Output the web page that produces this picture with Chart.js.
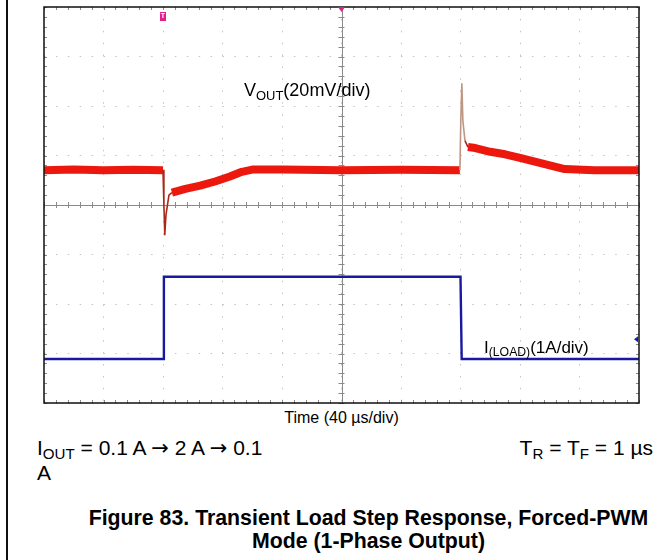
<!DOCTYPE html>
<html>
<head>
<meta charset="utf-8">
<script src="https://cdn.jsdelivr.net/npm/chart.js@4.4.1/dist/chart.umd.min.js"></script>
<style>
  html, body { margin: 0; padding: 0; background: #fff; }
  body { width: 669px; height: 560px; position: relative; overflow: hidden; font-family: "Liberation Sans", Arial, sans-serif; color: #000; }
  #pageLine { position: absolute; left: 6px; top: 0; width: 1.5px; height: 560px; background: #111; }
  #wrap { position: absolute; left: 43px; top: 6px; width: 597px; height: 398px; }
  .lbl { position: absolute; white-space: nowrap; line-height: 1; }
  .lbl sub { font-size: 0.72em; vertical-align: -0.28em; line-height: 1; }
  .arr { font-family: "DejaVu Sans", sans-serif; font-size: 1em; }
</style>
</head>
<body>
<div id="pageLine"></div>
<div id="wrap"><canvas id="c"></canvas></div>

<div class="lbl" style="left:244px; top:81px; font-size:18px;">V<sub>OUT</sub>(20mV/div)</div>
<div class="lbl" style="left:484px; top:339px; font-size:17px;">I<sub>(LOAD)</sub>(1A/div)</div>
<div class="lbl" style="left:0; width:683px; text-align:center; top:410px; font-size:16px;">Time (40 µs/div)</div>
<div class="lbl" style="left:37px; top:437px; font-size:21px;">I<sub>OUT</sub> = 0.1 A <span class="arr">→</span> 2 A <span class="arr">→</span> 0.1</div>
<div class="lbl" style="left:37px; top:462px; font-size:21px;">A</div>
<div class="lbl" style="right:16px; top:437px; font-size:21px;">T<sub>R</sub> = T<sub>F</sub> = 1 µs</div>
<div class="lbl" style="left:68px; width:601px; text-align:center; top:507px; font-size:21.3px; font-weight:bold; line-height:23px;">Figure 83. Transient Load Step Response, Forced-PWM<br>Mode (1-Phase Output)</div>

<script>
// ---- data (time in µs, 40 µs/div; Vout deviation in mV, 20 mV/div; Iload in A, 1 A/div)
const vTime = [0, 20, 40, 60, 80, 80.6, 81.2, 82, 84, 86, 95, 105, 115, 125, 133, 140, 160, 200, 240, 279.6, 280.2, 280.9, 281.6, 283, 285, 290, 300, 310, 320, 330, 340, 350, 370, 400];
const vOut  = [0, 0.3, 0, 0.2, 0, -14, -26, -18, -10, -9, -7.5, -6.2, -4.5, -2.5, -0.6, 0.3, 0.3, 0, 0.2, 0, 20, 35, 20, 12, 9.4, 9, 7.5, 6.5, 5, 3.5, 2, 0.5, 0, 0];
const iTime = [0, 80, 80.6, 280, 280.8, 400];
const iLoad = [0.1, 0.1, 1.76, 1.76, 0.1, 0.1];
const xTicks = [0, 40, 80, 120, 160, 200, 240, 280, 320, 360, 400];
const triggerTime = 80;     // trigger marker
const centerTime = 200;     // horizontal position marker
const iOffsetMarker = 0.5;  // channel marker level (A)

const vPoints = vTime.map((t, k) => ({x: t, y: vOut[k]}));
const iPoints = iTime.map((t, k) => ({x: t, y: iLoad[k]}));
const isTransient = (t0, t1) => (t0 >= 80 && t1 <= 86) || (t0 >= 279.6 && t1 <= 285);

const scopePlugin = {
  id: 'scope',
  beforeDatasetsDraw(chart) {
    const {ctx, chartArea: a, scales} = chart;
    const xs = scales.x, ys = scales.yV;
    const cx = xs.getPixelForValue(200), cy = ys.getPixelForValue(-14);
    ctx.save();
    ctx.strokeStyle = '#8a8a8a';
    ctx.lineWidth = 1;
    ctx.beginPath();
    ctx.moveTo(a.left, Math.round(cy) + 0.5); ctx.lineTo(a.right, Math.round(cy) + 0.5);
    ctx.moveTo(Math.round(cx) + 0.5, a.top); ctx.lineTo(Math.round(cx) + 0.5, a.bottom);
    for (let t = 0; t <= 400; t += 8) {
      const px = Math.round(xs.getPixelForValue(t)) + 0.5;
      ctx.moveTo(px, cy - 3); ctx.lineTo(px, cy + 3);
      ctx.moveTo(px, a.top); ctx.lineTo(px, a.top + 3);
      ctx.moveTo(px, a.bottom); ctx.lineTo(px, a.bottom - 3);
    }
    for (let v = -94; v <= 66.01; v += 4) {
      const py = Math.round(ys.getPixelForValue(v)) + 0.5;
      ctx.moveTo(cx - 3, py); ctx.lineTo(cx + 3, py);
      ctx.moveTo(a.left, py); ctx.lineTo(a.left + 3, py);
      ctx.moveTo(a.right, py); ctx.lineTo(a.right - 3, py);
    }
    ctx.stroke();
    ctx.restore();
  },
  afterDraw(chart) {
    const {ctx, chartArea: a, scales} = chart;
    ctx.save();
    ctx.strokeStyle = '#111';
    ctx.lineWidth = 1.5;
    ctx.strokeRect(a.left, a.top, a.right - a.left, a.bottom - a.top);
    const tx = scales.x.getPixelForValue(triggerTime);
    ctx.fillStyle = '#e0208c';
    ctx.fillRect(tx - 3, a.top + 5, 6, 9);
    ctx.fillStyle = '#fff';
    ctx.font = 'bold 7px "Liberation Sans"';
    ctx.textAlign = 'center'; ctx.textBaseline = 'middle';
    ctx.fillText('T', tx, a.top + 9.5);
    const hx = scales.x.getPixelForValue(centerTime);
    ctx.fillStyle = '#e0208c';
    ctx.beginPath();
    ctx.moveTo(hx - 3.5, a.top); ctx.lineTo(hx + 3.5, a.top); ctx.lineTo(hx, a.top + 5); ctx.closePath();
    ctx.fill();
    const my = scales.yI.getPixelForValue(iOffsetMarker);
    ctx.fillStyle = '#1a1aa8';
    ctx.beginPath();
    ctx.moveTo(a.right - 1, my - 3); ctx.lineTo(a.right - 1, my + 3); ctx.lineTo(a.right - 5, my); ctx.closePath();
    ctx.fill();
    ctx.restore();
  }
};

new Chart(document.getElementById('c'), {
  type: 'line',
  data: {
    datasets: [
      {
        label: 'VOUT',
        data: vPoints,
        yAxisID: 'yV',
        borderColor: 'rgb(236,24,14)',
        borderWidth: 8,
        pointRadius: 0,
        tension: 0,
        borderJoinStyle: 'round',
        segment: {
          borderWidth: c => isTransient(c.p0.parsed.x, c.p1.parsed.x) ? 1.6 : 8,
          borderColor: c => (c.p0.parsed.x >= 279.6 && c.p1.parsed.x <= 283) ? 'rgb(190,150,130)' :
                            (isTransient(c.p0.parsed.x, c.p1.parsed.x) ? 'rgb(170,40,25)' : 'rgb(236,24,14)')
        }
      },
      {
        label: 'ILOAD',
        data: iPoints,
        yAxisID: 'yI',
        borderColor: 'rgb(24,24,160)',
        borderWidth: 2.4,
        pointRadius: 0,
        tension: 0
      }
    ]
  },
  options: {
    responsive: true,
    maintainAspectRatio: false,
    animation: false,
    layout: { padding: 1 },
    plugins: { legend: { display: false }, tooltip: { enabled: false }, title: { display: false } },
    scales: {
      x: {
        type: 'linear', min: 0, max: 400,
        afterBuildTicks: s => { s.ticks = xTicks.map(v => ({value: v})); },
        ticks: { display: false },
        grid: { color: '#c4c4c4', lineWidth: 1, drawTicks: false },
        border: { display: false, dash: [1.5, 10.4] }
      },
      yV: {
        type: 'linear', position: 'left', min: -94, max: 66,
        ticks: { display: false, stepSize: 20 },
        grid: { color: '#c4c4c4', lineWidth: 1, drawTicks: false },
        border: { display: false, dash: [1.5, 10.4] }
      },
      yI: {
        type: 'linear', position: 'right', min: -0.79, max: 7.21,
        display: false
      }
    }
  },
  plugins: [scopePlugin]
});
</script>
</body>
</html>
